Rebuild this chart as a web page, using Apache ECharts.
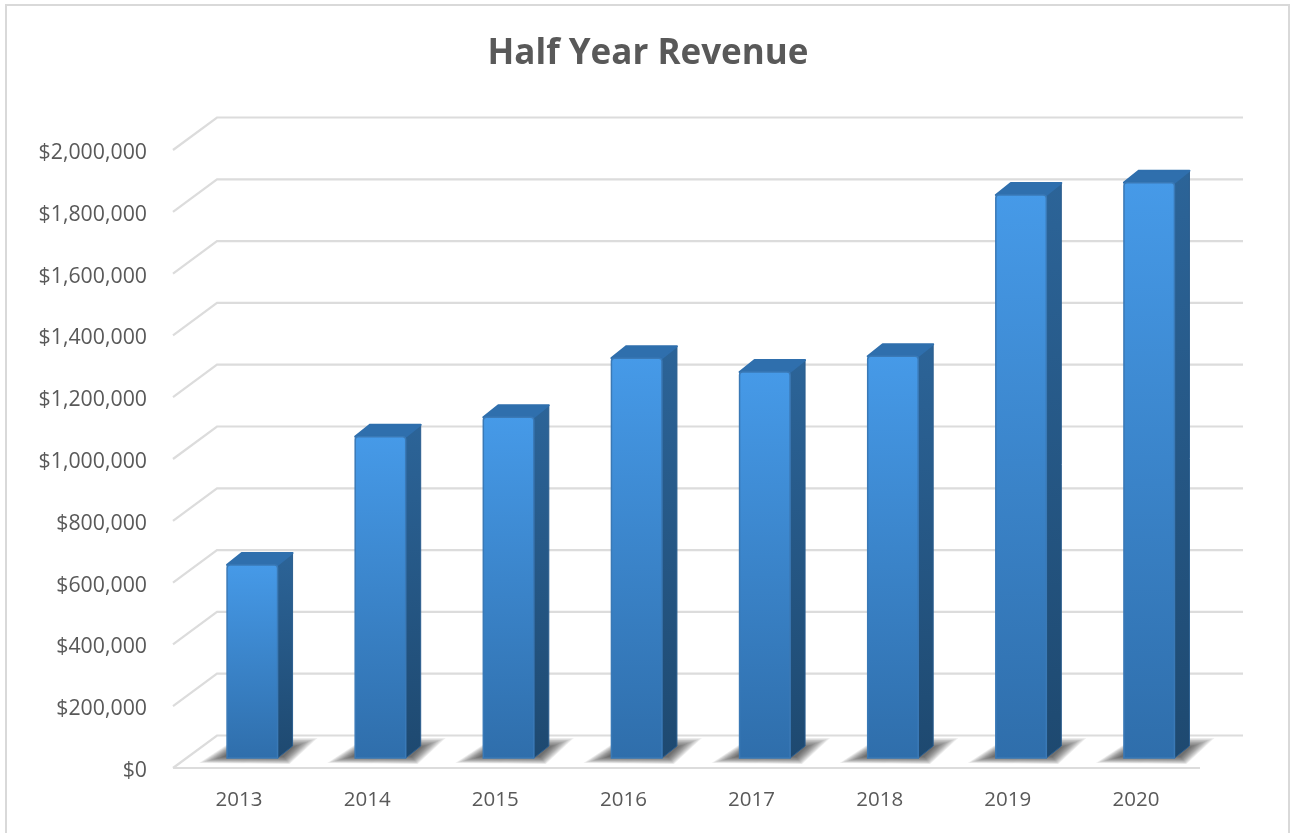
<!DOCTYPE html>
<html><head><meta charset="utf-8">
<script src="https://cdn.jsdelivr.net/npm/echarts@6/dist/echarts.min.js"></script>
<style>html,body{margin:0;padding:0;background:#fff;overflow:hidden}#c{width:1292px;height:833px}</style>
</head><body><div id="c"></div>
<script>
var categories = ['2013','2014','2015','2016','2017','2018','2019','2020'];
var revenue = [625000,1040000,1103000,1294000,1249000,1300000,1822000,1862000];
var gridTicks = [0,200000,400000,600000,800000,1000000,1200000,1400000,1600000,1800000,2000000];

var WALL_DX = 44, WALL_DY = -32.5;   // wall depth
var BAR_SHIFT = -12, BAR_DY = -10;   // bar offset inside the floor
var SIDE_DX = 15, SIDE_DY = -12;     // bar depth
var BAR_W = 50.5, LEFT_EXT = 2;
var SHADOW_LAYERS = 14;
var FONT = '"Open Sans", sans-serif';

function grad(a, b) {
  return {type:'linear',x:0,y:0,x2:0,y2:1,colorStops:[{offset:0,color:a},{offset:1,color:b}]};
}
function poly(pts, style, z2) {
  return {type:'polygon',shape:{points:pts},style:style,z2:z2||0};
}
function renderGrid(params, api) {
  var v = api.value(1);
  var p = api.coord([0, v]);
  var cs = params.coordSys, x0 = cs.x - LEFT_EXT, x1 = cs.x + cs.width, y = p[1];
  var lineStyle = {fill:'none',stroke:'#dcdcdc',lineWidth:2.2};
  var kids = [{type:'polyline',
    shape:{points:[[x0,y],[x0+WALL_DX,y+WALL_DY],[x1+WALL_DX-1,y+WALL_DY]]},style:lineStyle}];
  if (v === 0) kids.push({type:'line',shape:{x1:x0,y1:y,x2:x1,y2:y},style:lineStyle});
  return {type:'group',children:kids};
}
function renderShadow(params, api) {
  var base = api.coord([api.value(0), 0]);
  var l = base[0] + BAR_SHIFT, b = base[1] + BAR_DY, r = l + BAR_W;
  var outer = [[l-28,b+5],[r+12,b+6],[r+40,b-20],[l+10,b-20]];
  var inner = [[l-4,b-1],[r+6,b-1],[r+16,b-11],[l+10,b-11]];
  var kids = [];
  for (var k = 0; k < SHADOW_LAYERS; k++) {
    var t = k / (SHADOW_LAYERS - 1);
    var pts = outer.map(function(o, i){
      return [o[0] + (inner[i][0]-o[0])*t, o[1] + (inner[i][1]-o[1])*t];
    });
    kids.push(poly(pts, {fill:'rgba(35,35,35,0.065)'}));
  }
  return {type:'group',children:kids};
}
function renderBar(params, api) {
  var top = api.coord([api.value(0), api.value(1)]);
  var base = api.coord([api.value(0), 0]);
  var l = top[0] + BAR_SHIFT, r = l + BAR_W;
  var t = top[1] + BAR_DY, b = base[1] + BAR_DY;
  return {type:'group',children:[
    poly([[r,t],[r+SIDE_DX,t+SIDE_DY],[r+SIDE_DX,b+SIDE_DY],[r,b]],
      {fill:grad('#2c6498','#1e4970'),stroke:'#2a5d8e',lineWidth:1,lineJoin:'round'},1),
    poly([[l,t],[l+SIDE_DX,t+SIDE_DY],[r+SIDE_DX,t+SIDE_DY],[r,t]],
      {fill:'#2f6fad',stroke:'#2f6fad',lineWidth:2,lineJoin:'round'},2),
    {type:'rect',shape:{x:l,y:t,width:BAR_W,height:b-t,r:[3,3,0,0]},
      style:{fill:grad('#469ae8','#2f6eab'),stroke:'#3a79b6',lineWidth:1.5},z2:3}
  ]};
}
var chart = echarts.init(document.getElementById('c'));
chart.setOption({
  animation:false,
  backgroundColor:'#fff',
  graphic:[{type:'rect',z:-10,shape:{x:6,y:5,width:1283,height:900},
    style:{fill:'#fff',stroke:'#d9d9d9',lineWidth:2}}],
  title:{text:'Half Year Revenue',left:643,top:32,textAlign:'center',
    textStyle:{fontFamily:FONT,fontWeight:'bold',fontSize:35,color:'#595959'}},
  grid:{left:175,right:92,top:150,bottom:65},
  xAxis:{type:'category',data:categories,
    axisLine:{show:false},axisTick:{show:false},
    axisLabel:{fontFamily:FONT,fontSize:20.5,color:'#595959',margin:22}},
  yAxis:{type:'value',min:0,max:2000000,interval:200000,
    axisLine:{show:false},axisTick:{show:false},splitLine:{show:false},
    axisLabel:{margin:28,
      rich:{t:{fontFamily:FONT,fontSize:21.3,color:'#595959',padding:[6,0,0,0]}},
      formatter:function(v){return '{t|$'+v.toString().replace(/\B(?=(\d{3})+$)/g,',')+'}';}}},
  series:[
    {type:'custom',z:1,renderItem:renderGrid,silent:true,clip:false,
     data:gridTicks.map(function(v){return [0,v];})},
    {type:'custom',z:2,renderItem:renderShadow,silent:true,clip:false,
     data:revenue.map(function(v,i){return [i,v];})},
    {type:'custom',z:3,renderItem:renderBar,silent:true,clip:false,
     data:revenue.map(function(v,i){return [i,v];})}
  ]
});
</script></body></html>
